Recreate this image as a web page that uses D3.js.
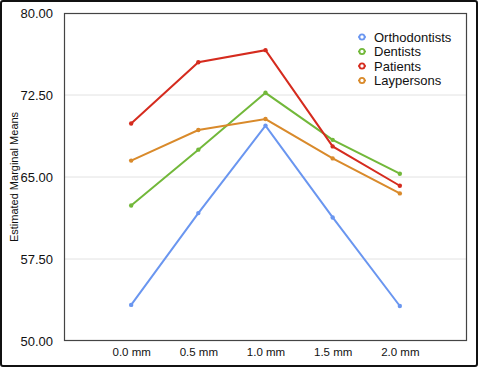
<!DOCTYPE html>
<html>
<head>
<meta charset="utf-8">
<script src="https://cdn.jsdelivr.net/npm/d3@7"></script>
<style>
  body { margin: 0; background: #fff; }
  svg { display: block; font-family: "Liberation Sans", Arial, sans-serif; }
</style>
</head>
<body>
<script>
// data
const categories = ["0.0 mm", "0.5 mm", "1.0 mm", "1.5 mm", "2.0 mm"];
const seriesNames = ["Orthodontists", "Dentists", "Patients", "Laypersons"];
const orthodontists = [53.3, 61.7, 69.7, 61.3, 53.2];
const dentists = [62.4, 67.5, 72.7, 68.4, 65.3];
const patients = [69.9, 75.5, 76.6, 67.8, 64.2];
const laypersons = [66.5, 69.3, 70.3, 66.7, 63.5];
const yTicks = [50, 57.5, 65, 72.5, 80];
const colors = ["#6a96f0", "#72b83a", "#d52b1e", "#d98a2b"];

const W = 478, H = 367;
const m = { left: 64, right: 11, top: 13, bottom: 26 };

const svg = d3.select("body").append("svg")
  .attr("width", W)
  .attr("height", H);

// outer frame
svg.append("rect")
  .attr("x", 1).attr("y", 1)
  .attr("width", W - 2).attr("height", H - 2)
  .attr("rx", 2)
  .style("fill", "none")
  .style("stroke", "#111")
  .style("stroke-width", 2);

const x = d3.scalePoint()
  .domain(categories)
  .range([m.left, W - m.right])
  .padding(1);

const y = d3.scaleLinear()
  .domain([50, 80])
  .range([H - m.bottom, m.top]);

// gridlines
svg.append("g").selectAll("line")
  .data(yTicks.filter(d => d > 50 && d < 80))
  .enter()
  .append("line")
  .attr("x1", m.left).attr("x2", W - m.right)
  .attr("y1", d => y(d)).attr("y2", d => y(d))
  .style("stroke", "#e2e2e2")
  .style("stroke-width", 1);

// y axis labels
const yAxis = svg.append("g")
  .attr("transform", `translate(${m.left},0)`)
  .call(d3.axisLeft(y).tickValues(yTicks).tickFormat(d3.format(".2f")).tickSize(0).tickPadding(11));
yAxis.select(".domain").remove();
yAxis.selectAll("text").style("font-size", "13px").style("fill", "#111");

// x axis labels
const xAxis = svg.append("g")
  .attr("transform", `translate(0,${H - m.bottom})`)
  .call(d3.axisBottom(x).tickSize(0).tickPadding(7));
xAxis.select(".domain").remove();
xAxis.selectAll("text").style("font-size", "11.5px").style("fill", "#111");

// plot frame
svg.append("rect")
  .attr("x", m.left + 0.5).attr("y", m.top + 0.5)
  .attr("width", W - m.left - m.right - 1)
  .attr("height", H - m.top - m.bottom - 1)
  .style("fill", "none")
  .style("stroke", "#444")
  .style("stroke-width", 1.2);

// y title
svg.append("text")
  .attr("transform", `translate(18,${(m.top + H - m.bottom) / 2}) rotate(-90)`)
  .attr("text-anchor", "middle")
  .style("font-size", "11px")
  .style("fill", "#111")
  .text("Estimated Marginal Means");

const allSeries = [orthodontists, dentists, patients, laypersons];
const line = d3.line()
  .x((d, i) => x(categories[i]))
  .y(d => y(d));

const groups = svg.append("g").selectAll("g")
  .data(allSeries)
  .enter()
  .append("g");

groups.append("path")
  .attr("d", d => line(d))
  .style("fill", "none")
  .style("stroke", (d, i) => colors[i])
  .style("stroke-width", 2);

groups.each(function(vals, si) {
  d3.select(this).selectAll("circle")
    .data(vals)
    .enter()
    .append("circle")
    .attr("cx", (d, i) => x(categories[i]))
    .attr("cy", d => y(d))
    .attr("r", 2.2)
    .style("fill", colors[si]);
});

// legend
const legend = svg.append("g")
  .attr("transform", "translate(362,37)");
const items = legend.selectAll("g")
  .data(seriesNames)
  .enter()
  .append("g")
  .attr("transform", (d, i) => `translate(0,${i * 14.5})`);
items.append("line")
  .attr("x1", -4).attr("x2", 4)
  .style("stroke", (d, i) => colors[i])
  .style("stroke-width", 1.5);
items.append("circle")
  .attr("r", 2.6)
  .style("fill", "#fff")
  .style("stroke", (d, i) => colors[i])
  .style("stroke-width", 1.8);
items.append("text")
  .attr("x", 12)
  .attr("dy", "0.36em")
  .style("font-size", "13px")
  .style("fill", "#111")
  .text(d => d);
</script>
</body>
</html>
